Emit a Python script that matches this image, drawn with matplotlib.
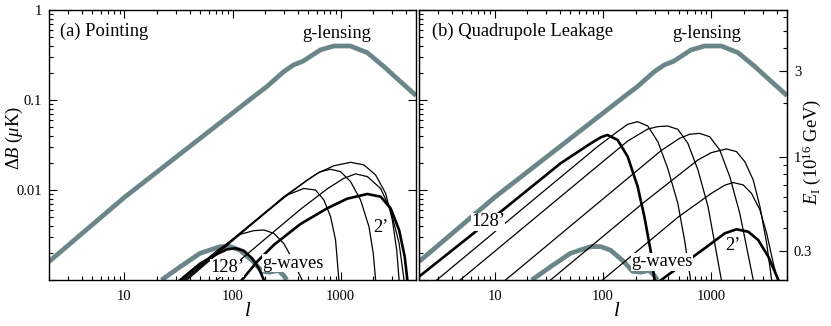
import numpy as np
import matplotlib
matplotlib.use("Agg")
import matplotlib.pyplot as plt
from matplotlib.ticker import FixedLocator, NullFormatter, LogLocator, FixedFormatter

plt.rcParams['font.family'] = ['Liberation Serif', 'DejaVu Serif']
plt.rcParams['mathtext.fontset'] = 'custom'
plt.rcParams['mathtext.rm'] = 'Liberation Serif'
plt.rcParams['mathtext.it'] = 'Liberation Serif:italic'

# ---------------- data ----------------
lens_l = [2, 10, 157, 208, 297, 367, 450, 650, 865, 1235, 1766, 2525, 3594, 5000]
lens_B = [0.0016, 0.0083, 0.109, 0.141, 0.206, 0.245, 0.27, 0.36, 0.398, 0.398,
          0.336, 0.235, 0.16, 0.112]

gw_l = [22, 33, 50, 77, 95, 117, 155, 187, 222, 265, 296, 318]
gw_B = [0.001, 0.00141, 0.00198, 0.00235, 0.00235, 0.00215, 0.00161, 0.00125, 0.00122,
        0.00128, 0.00113, 0.001]

# (a) pointing, beam sizes 128' ... 2'
pt_128_l = [32.8, 50.4, 71.8, 88.9, 106, 127, 152, 175, 195]
pt_128_B = [0.001, 0.00153, 0.00194, 0.00219, 0.00225, 0.00212, 0.00174, 0.00135, 0.001]
pt_64_l = [34, 71.8, 118, 157, 195, 241, 298, 356, 411, 441]
pt_64_B = [0.001, 0.00212, 0.00322, 0.00353, 0.0036, 0.0033, 0.00255, 0.00174, 0.00119, 0.001]
pt_32_l = [35.3, 102, 209, 321, 457, 587, 702, 809, 900, 966]
pt_32_B = [0.001, 0.0029, 0.00589, 0.0088, 0.0104, 0.01, 0.00774, 0.00506, 0.00278, 0.001]
pt_16_l = [36.5, 102, 298, 491, 653, 809, 1000, 1239, 1534, 1834, 2010, 2114]
pt_16_B = [0.001, 0.00283, 0.00815, 0.0129, 0.016, 0.017, 0.016, 0.0124, 0.00774, 0.00392,
           0.00198, 0.001]
pt_8_l = [37.9, 102, 298, 608, 869, 1239, 1648, 2114, 2618, 3019, 3314, 3487]
pt_8_B = [0.001, 0.00278, 0.00843, 0.0153, 0.0186, 0.0203, 0.019, 0.0147, 0.00918, 0.00464,
          0.00215, 0.001]
pt_4_l = [71.8, 118, 209, 426, 753, 1075, 1380, 1771, 2351, 2911, 3487, 3874]
pt_4_B = [0.001, 0.00167, 0.00298, 0.0061, 0.0103, 0.0135, 0.0151, 0.0141, 0.0104, 0.006,
          0.00256, 0.001]
pt_2_l = [122, 169, 241, 426, 753, 1154, 1771, 2351, 2911, 3487, 3929, 4160]
pt_2_B = [0.001, 0.0016, 0.00245, 0.00419, 0.00626, 0.00801, 0.00903, 0.00843, 0.00626,
          0.0036, 0.00182, 0.001]

# (b) quadrupole leakage
ql_128_l = [2.04, 12.1, 40.6, 77.2, 95.5, 110, 136.4, 169, 209, 241, 278, 299]
ql_128_B = [0.00111, 0.0061, 0.0198, 0.033, 0.0385, 0.0409, 0.036, 0.0235, 0.0109, 0.00506,
            0.00198, 0.001]
ql_64_l = [2.92, 28.5, 88.9, 136, 169, 209, 259, 321, 396, 491, 566, 644]
ql_64_B = [0.001, 0.00975, 0.0303, 0.0445, 0.0537, 0.0574, 0.0514, 0.0344, 0.0174, 0.0071,
           0.00278, 0.001]
ql_32_l = [4.8, 40.6, 169, 259, 321, 396, 491, 608, 753, 933, 1075, 1239]
ql_32_B = [0.001, 0.00843, 0.035, 0.0476, 0.0506, 0.0514, 0.0472, 0.033, 0.0167, 0.00653,
           0.00256, 0.001]
ql_16_l = [12.6, 82.9, 344, 509, 630, 780, 966, 1197, 1480, 1833, 2114, 2439]
ql_16_B = [0.001, 0.0066, 0.0274, 0.0375, 0.0416, 0.0426, 0.0391, 0.0278, 0.0141, 0.0055,
           0.00235, 0.001]
ql_8_l = [32.8, 241, 753, 1000, 1380, 1708, 2042, 2439, 2813, 3245, 3608]
ql_8_B = [0.001, 0.00736, 0.0216, 0.026, 0.0286, 0.0267, 0.0206, 0.0129, 0.00653, 0.00256,
          0.001]
ql_4_l = [99, 491, 1000, 1331, 1589, 1968, 2351, 2813, 3245, 3736, 4103]
ql_4_B = [0.001, 0.00497, 0.00918, 0.0113, 0.0121, 0.0114, 0.00918, 0.006, 0.0033, 0.00153,
          0.001]
ql_2_l = [344, 869, 1331, 1708, 2193, 2712, 3359, 4160]
ql_2_B = [0.001, 0.00225, 0.0033, 0.00366, 0.00344, 0.00278, 0.00182, 0.001]

x_ticks = [10, 100, 1000]
x_ticklabels = ['10', '100', '1000']
y_ticks = [0.001, 0.01, 0.1, 1]
y_ticklabels = ['', '0.01', '0.1', '1']
e_ticks = [0.3, 1, 3]
e_ticklabels = ['0.3', '1', '3']
E_REF = 0.02344  # Delta B (uK) where E_I = 1

# ---------------- figure ----------------
W, H = 831, 326
fig = plt.figure(figsize=(W / 100, H / 100), dpi=100)
axL = fig.add_axes([49 / W, 1 - 280 / H, 367 / W, 270 / H])
axR = fig.add_axes([419 / W, 1 - 280 / H, 368 / W, 270 / H])

GRAY = '#6b8689'
thin, thick, glw = 0.9, 1.9, 3.4
FS = 13.3

def setup(ax, left_labels):
    ax.set_xscale('log')
    ax.set_yscale('log')
    ax.set_xlim(2, 5000)
    ax.set_ylim(0.001, 1)
    ax.xaxis.set_major_locator(FixedLocator(x_ticks))
    ax.xaxis.set_major_formatter(FixedFormatter(x_ticklabels))
    ax.xaxis.set_minor_locator(LogLocator(base=10, subs=np.arange(2, 10), numticks=20))
    ax.xaxis.set_minor_formatter(NullFormatter())
    ax.yaxis.set_major_locator(FixedLocator(y_ticks))
    if left_labels:
        ax.yaxis.set_major_formatter(FixedFormatter(y_ticklabels))
    else:
        ax.yaxis.set_major_formatter(NullFormatter())
    ax.yaxis.set_minor_locator(LogLocator(base=10, subs=np.arange(2, 10), numticks=20))
    ax.yaxis.set_minor_formatter(NullFormatter())
    ax.tick_params(which='both', direction='in', top=True, labelsize=10.5, width=0.8)
    ax.tick_params(which='major', length=6, pad=5)
    ax.tick_params(axis='x', which='major', pad=7)
    ax.tick_params(which='minor', length=3)
    for s in ax.spines.values():
        s.set_linewidth(1.0)

setup(axL, True)
setup(axR, False)
axL.tick_params(right=True)
axR.tick_params(right=False)

# panel (a)
axL.plot(lens_l, lens_B, color=GRAY, lw=glw, solid_capstyle='butt', zorder=2)
axL.plot(gw_l, gw_B, color=GRAY, lw=glw, solid_capstyle='butt', zorder=2)
for (lx, by, w) in [(pt_128_l, pt_128_B, thick), (pt_64_l, pt_64_B, thin), (pt_32_l, pt_32_B, thin),
                    (pt_16_l, pt_16_B, thin), (pt_8_l, pt_8_B, thin), (pt_4_l, pt_4_B, thin),
                    (pt_2_l, pt_2_B, thick)]:
    axL.plot(lx, by, color='k', lw=w, zorder=3)

# panel (b)
axR.plot(lens_l, lens_B, color=GRAY, lw=glw, solid_capstyle='butt', zorder=2)
axR.plot(gw_l, gw_B, color=GRAY, lw=glw, solid_capstyle='butt', zorder=2)
for (lx, by, w) in [(ql_128_l, ql_128_B, thick), (ql_64_l, ql_64_B, thin), (ql_32_l, ql_32_B, thin),
                    (ql_16_l, ql_16_B, thin), (ql_8_l, ql_8_B, thin), (ql_4_l, ql_4_B, thin),
                    (ql_2_l, ql_2_B, thick)]:
    axR.plot(lx, by, color='k', lw=w, zorder=3)

def label(xpx, ypx, s, ha='center', box=True, size=FS, rot=0):
    kw = dict(fontsize=size, ha=ha, va='center', transform=fig.transFigure, zorder=5,
              rotation=rot)
    if box:
        kw['bbox'] = dict(facecolor='white', edgecolor='none', pad=0.3)
    fig.text(xpx / W, 1 - ypx / H, s, **kw)

label(60, 31, '(a) Pointing', ha='left', box=False)
label(337, 33, 'g-lensing', box=False)
label(293, 263, 'g-waves')
label(227, 268, '128\u2019')
label(381, 227, '2\u2019')

label(432, 31, '(b) Quadrupole Leakage', ha='left', box=False)
label(707, 33, 'g-lensing', box=False)
label(488, 222, '128\u2019')
label(662, 262, 'g-waves')
label(733, 246, '2\u2019')

label(14, 138, r'$\Delta B$ ($\mu$K)', box=False, rot=90)
label(248, 312, '$l$', box=False, size=15)
label(617, 312, '$l$', box=False, size=15)
label(812, 152, r'$E_{\rm I}$ (10$^{16}$ GeV)', box=False, rot=90)

# right axis E_I
axE = axR.twinx()
axE.set_yscale('log')
axE.set_ylim(np.sqrt(0.001 / E_REF), np.sqrt(1 / E_REF))
axE.yaxis.set_major_locator(FixedLocator(e_ticks))
axE.yaxis.set_major_formatter(FixedFormatter(e_ticklabels))
axE.yaxis.set_minor_locator(LogLocator(base=10, subs=np.arange(2, 10), numticks=20))
axE.yaxis.set_minor_formatter(NullFormatter())
axE.tick_params(which='both', direction='in', labelsize=10.5, width=0.8)
axE.tick_params(which='major', length=6, pad=5)
axE.tick_params(which='minor', length=3)

fig.savefig('out.png', dpi=100)
